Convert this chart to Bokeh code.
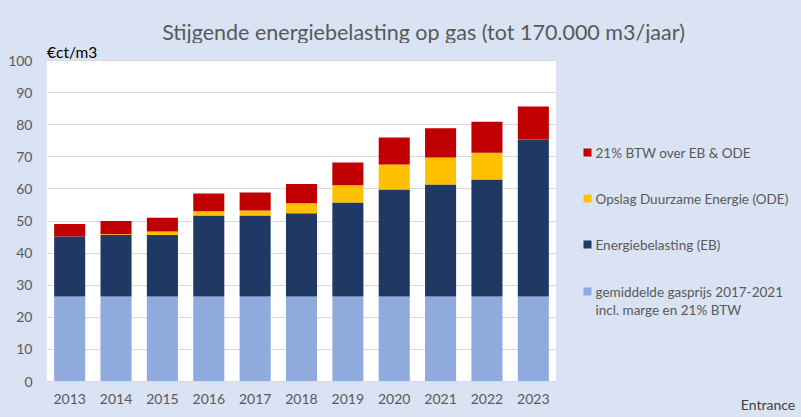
from bokeh.plotting import figure
from bokeh.layouts import column, row
from bokeh.models import ColumnDataSource, BoxAnnotation, FixedTicker, Range1d
from bokeh.core.properties import value
from bokeh.embed import file_html
from bokeh.resources import INLINE

# Gas price build-up per year, in euro cents per m3 (up to 170.000 m3/year)
years = ["2013", "2014", "2015", "2016", "2017", "2018", "2019", "2020", "2021", "2022", "2023"]
gasprijs = [26.5, 26.5, 26.5, 26.5, 26.5, 26.5, 26.5, 26.5, 26.5, 26.5, 26.5]
eb = [18.7, 19.1, 19.1, 25.2, 25.2, 25.9, 29.3, 33.3, 34.9, 36.4, 48.9]
ode = [0.0, 0.3, 1.1, 1.3, 1.6, 3.1, 5.3, 7.8, 8.4, 8.4, 0.0]
btw = [3.9, 4.1, 4.3, 5.6, 5.6, 6.0, 7.1, 8.4, 9.1, 9.6, 10.3]

series = ["gasprijs", "eb", "ode", "btw"]
colors = ["#8FAADC", "#203864", "#FFC000", "#C00000"]
legend_labels = [
    "gemiddelde gasprijs 2017-2021\nincl. marge en 21% BTW",
    "Energiebelasting (EB)",
    "Opslag Duurzame Energie (ODE)",
    "21% BTW over EB & ODE",
]

title_text = "Stijgende energiebelasting op gas (tot 170.000 m3/jaar)"
unit_text = "€ct/m3"
source_text = "Entrance"

BG = "#DAE3F3"
TXT = "#595959"
FONT = "Lato"

W, H = 801, 417
TOP_H = 43           # title strip
MAIN_W = 556         # chart incl. y-axis labels
SIDE_W = W - MAIN_W  # legend column
BODY_H = H - TOP_H
AX_L, AX_B = 46, 36
PLOT_BOTTOM = H - AX_B
PX_PER_UNIT = 3.21   # vertical scale of the value axis


def blank(width, height, x_range, y_range, **kw):
    opts = dict(min_border=0, min_border_left=0, min_border_right=0,
                min_border_top=0, min_border_bottom=0,
                x_axis_location=None, y_axis_location=None)
    opts.update(kw)
    f = figure(width=width, height=height, x_range=x_range, y_range=y_range,
               output_backend="svg", toolbar_location=None, **opts)
    f.grid.visible = False
    f.outline_line_color = None
    f.background_fill_color = BG
    f.border_fill_color = BG
    return f


# --- title strip (page pixel coordinates, y pointing down) ---
top = blank(W, TOP_H, Range1d(0, W), Range1d(TOP_H, 0))
top.text(x=[423], y=[31], text=[title_text], text_font=value(FONT),
         text_font_size="21.5px", text_color=TXT, text_align="center",
         text_baseline="middle")

# --- stacked bar chart ---
src = ColumnDataSource(dict(year=years, gasprijs=gasprijs, eb=eb, ode=ode, btw=btw))
frame_h = BODY_H - AX_B
p = figure(
    x_range=years, y_range=Range1d(0, frame_h / PX_PER_UNIT),
    width=MAIN_W, height=BODY_H,
    output_backend="svg", toolbar_location=None,
    min_border_left=AX_L, min_border_right=0,
    min_border_top=0, min_border_bottom=AX_B,
)
p.background_fill_color = BG
p.border_fill_color = BG
p.outline_line_color = None
p.x_range.range_padding = 0.0

# white plot area up to 100
p.add_layout(BoxAnnotation(top=100, fill_color="white", fill_alpha=1.0,
                           line_color=None, level="image"))

p.vbar_stack(series, x="year", width=0.67, color=colors, line_color=None, source=src)

p.xgrid.grid_line_color = None
p.ygrid.grid_line_color = "#D9D9D9"
p.ygrid.grid_line_width = 1
p.ygrid.ticker = FixedTicker(ticks=list(range(0, 101, 10)))

p.yaxis.ticker = FixedTicker(ticks=list(range(0, 101, 10)))
p.yaxis.axis_line_color = None
p.yaxis.major_tick_line_color = None
p.yaxis.minor_tick_line_color = None
p.yaxis.major_tick_out = 0
p.yaxis.major_tick_in = 0
p.yaxis.major_label_standoff = 14
p.yaxis.major_label_text_font = FONT
p.yaxis.major_label_text_font_size = "14px"
p.yaxis.major_label_text_color = TXT

p.xaxis.axis_line_color = "#D9D9D9"
p.xaxis.major_tick_line_color = None
p.xaxis.major_tick_out = 0
p.xaxis.major_tick_in = 0
p.xaxis.major_label_standoff = 12
p.xaxis.major_label_text_font = FONT
p.xaxis.major_label_text_font_size = "14px"
p.xaxis.major_label_text_color = TXT

# unit label above the value axis, flush with the plot area's left edge
p.text(x=[years[0]], y=[(PLOT_BOTTOM - 51.4) / PX_PER_UNIT], text=[unit_text],
       x_offset=-510 / 11 / 2 + 0.5, text_font=value(FONT), text_font_size="15.5px",
       text_color="#000000", text_align="left", text_baseline="middle")

# --- legend column (page pixel coordinates, y pointing down) ---
# same bottom margin as the chart so both plot areas line up; the source
# credit sits in that margin as the single label of a bare axis
side = blank(SIDE_W, BODY_H, Range1d(MAIN_W, W), Range1d(PLOT_BOTTOM, TOP_H),
             min_border_bottom=AX_B, x_axis_location="below")
rows_y = [291, 244, 198, 152]
side.rect(x=[587] * 4, y=rows_y, width=8, height=8, color=colors, line_color=None)
for y, lab in zip(rows_y, legend_labels):
    for i, line in enumerate(lab.split("\n")):
        side.text(x=[595], y=[y + 18 * i], text=[line], text_font=value(FONT),
                  text_font_size="13.5px", text_color=TXT, text_align="left",
                  text_baseline="middle")

credit_x = 767.5
side.xaxis.ticker = FixedTicker(ticks=[credit_x])
side.xaxis.major_label_overrides = {credit_x: source_text}
side.xaxis.axis_line_color = None
side.xaxis.major_tick_line_color = None
side.xaxis.minor_tick_line_color = None
side.xaxis.major_tick_out = 0
side.xaxis.major_tick_in = 0
side.xaxis.major_label_standoff = 14
side.xaxis.major_label_text_font = FONT
side.xaxis.major_label_text_font_size = "14px"
side.xaxis.major_label_text_color = "#404040"

body = row(p, side, spacing=0, styles={"background-color": BG})
layout = column(top, body, spacing=0, styles={"background-color": BG})
open("out.html", "w").write(file_html(layout, INLINE))
